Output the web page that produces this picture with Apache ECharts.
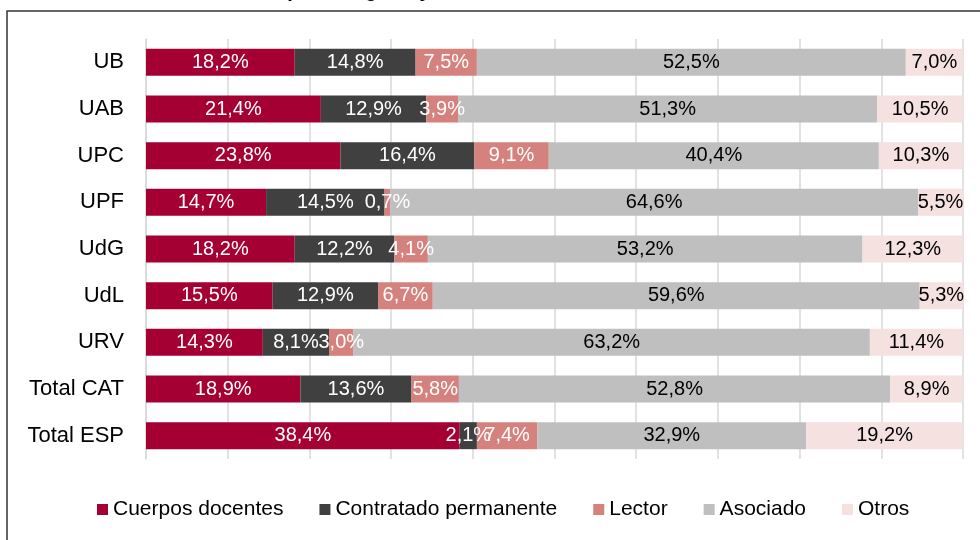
<!DOCTYPE html>
<html>
<head>
<meta charset="utf-8">
<script src="https://cdn.jsdelivr.net/npm/echarts@6/dist/echarts.min.js"></script>
<style>
  html, body { margin: 0; padding: 0; background: #fff; }
  #chart { width: 980px; height: 540px; }
</style>
</head>
<body>
<div id="chart"></div>
<script>
// universidades (de arriba a abajo)
const universidades = ['UB', 'UAB', 'UPC', 'UPF', 'UdG', 'UdL', 'URV', 'Total CAT', 'Total ESP'];

// % por categoría
const cuerposDocentes = [18.2, 21.4, 23.8, 14.7, 18.2, 15.5, 14.3, 18.9, 38.4];
const contratadoPermanente = [14.8, 12.9, 16.4, 14.5, 12.2, 12.9, 8.1, 13.6, 2.1];
const lector = [7.5, 3.9, 9.1, 0.7, 4.1, 6.7, 3.0, 5.8, 7.4];
const asociado = [52.5, 51.3, 40.4, 64.6, 53.2, 59.6, 63.2, 52.8, 32.9];
const otros = [7.0, 10.5, 10.3, 5.5, 12.3, 5.3, 11.4, 8.9, 19.2];

const FONT = 'Liberation Sans';

const fmt = p => p.value.toFixed(1).replace('.', ',') + '%';

function serie(name, data, color, textColor) {
  return {
    name, type: 'bar', stack: 'total', data,
    barWidth: 27,
    itemStyle: { color },
    label: {
      show: true, position: 'inside', formatter: fmt,
      color: textColor, fontFamily: FONT, fontSize: 20
    },
    emphasis: { disabled: true }
  };
}

const chart = echarts.init(document.getElementById('chart'));
chart.setOption({
  animation: false,
  backgroundColor: '#fff',
  title: {
    // el título queda cortado arriba, solo se ven los trazos descendentes
    text: 'Plantilla por categoría y universidad',
    left: 200, top: -24,
    textStyle: { fontFamily: FONT, fontSize: 20, fontWeight: 'bold', color: '#000' }
  },
  graphic: [{
    type: 'rect', z: 100,
    shape: { x: 7, y: 11, width: 990, height: 560 },
    style: { fill: 'none', stroke: '#333', lineWidth: 1.5 }
  }],
  grid: { left: 146, right: 17, top: 39, bottom: 81 },
  legend: {
    bottom: 15, left: 92,
    itemWidth: 11, itemHeight: 11, itemGap: 36,
    icon: 'rect',
    textStyle: { fontFamily: FONT, fontSize: 21, color: '#000' },
    data: ['Cuerpos docentes', 'Contratado permanente', 'Lector', 'Asociado', 'Otros']
  },
  xAxis: {
    type: 'value', min: 0, max: 100, interval: 10,
    axisLabel: { show: false },
    axisLine: { show: false },
    axisTick: { show: false },
    splitLine: { lineStyle: { color: '#D9D9D9', width: 1.5 } }
  },
  yAxis: {
    type: 'category', data: universidades, inverse: true,
    axisLine: { lineStyle: { color: '#D9D9D9', width: 1.5 } },
    axisTick: { show: false },
    axisLabel: { margin: 22, fontFamily: FONT, fontSize: 22, color: '#000' }
  },
  series: [
    serie('Cuerpos docentes', cuerposDocentes, '#A50034', '#fff'),
    serie('Contratado permanente', contratadoPermanente, '#404040', '#fff'),
    serie('Lector', lector, '#D5827E', '#fff'),
    serie('Asociado', asociado, '#BFBFBF', '#000'),
    serie('Otros', otros, '#F5E1E0', '#000')
  ]
});
</script>
</body>
</html>
